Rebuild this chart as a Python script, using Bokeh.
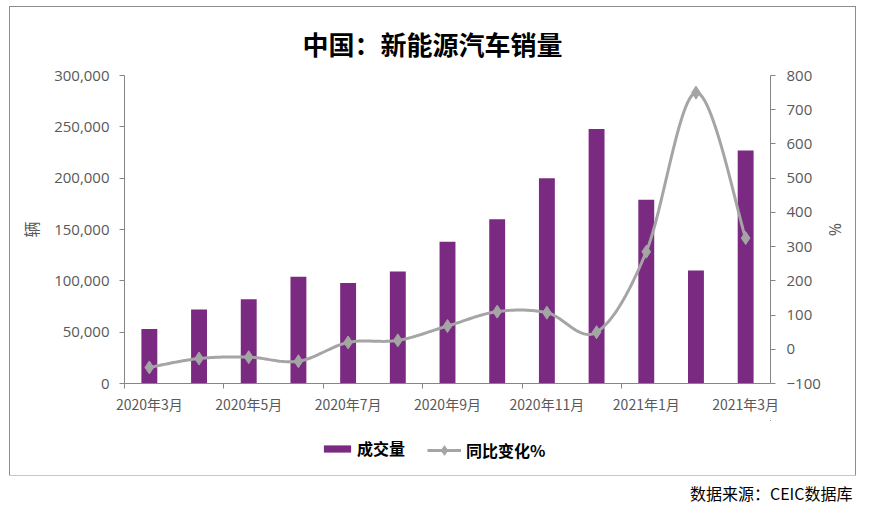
import math
from bokeh.plotting import figure
from bokeh.layouts import column, row
from bokeh.models import (Range1d, LinearAxis, FixedTicker, NumeralTickFormatter,
                          Legend, LegendItem, Label, Spacer)
from bokeh.embed import file_html
from bokeh.resources import INLINE

# ---- data ----
months = ["2020年3月", "2020年4月", "2020年5月", "2020年6月", "2020年7月", "2020年8月",
          "2020年9月", "2020年10月", "2020年11月", "2020年12月", "2021年1月", "2021年2月",
          "2021年3月"]
sales = [53000, 72000, 82000, 104000, 98000, 109000, 138000, 160000, 200000,
         248000, 179000, 110000, 227000]
yoy = [-53, -27, -23, -35, 20, 26, 68, 110, 107, 50, 285, 750, 325]
left_ticks = [0, 50000, 100000, 150000, 200000, 250000, 300000]
right_ticks = [-100, 0, 100, 200, 300, 400, 500, 600, 700, 800]

title_text = "中国：新能源汽车销量"
source_text = "数据来源：CEIC数据库"
bar_name = "成交量"
line_name = "同比变化%"
left_label = "辆"
right_label = "%"

PURPLE = "#7B2A82"
GRAY = "#A5A5A5"
AXIS = "#868686"
TICKTXT = "#595959"
NUM_FONT = "Open Sans"
CJK_FONT = "Noto Sans CJK SC"

n = len(months)
xs = list(range(n))

PW, PH = 845, 413
p = figure(width=PW, height=PH, output_backend="svg", toolbar_location=None,
           x_range=Range1d(-0.5, n - 0.5), y_range=Range1d(left_ticks[0], left_ticks[-1]),
           min_border_left=114, min_border_right=85, min_border_top=68,
           min_border_bottom=37)
p.extra_y_ranges = {"pct": Range1d(right_ticks[0], right_ticks[-1])}
p.outline_line_color = None
p.xgrid.visible = False
p.ygrid.visible = False
p.background_fill_color = "white"
p.border_fill_color = "white"

p.title.text = title_text
p.title.align = "left"
p.title.offset = 178
p.title.standoff = 28
p.title.text_font = CJK_FONT
p.title.text_font_size = "26px"
p.title.text_font_style = "bold"
p.title.text_color = "black"

# bars
bars = p.vbar(x=xs, top=sales, width=0.32, fill_color=PURPLE, line_color=None)

# smoothed line (Catmull-Rom through the data points)
def smooth(xv, yv, steps=24):
    pts = list(zip(xv, yv))
    m = len(pts)
    ox, oy = [], []
    for i in range(m - 1):
        p0 = pts[i - 1] if i > 0 else pts[i]
        p1 = pts[i]
        p2 = pts[i + 1]
        p3 = pts[i + 2] if i + 2 < m else pts[i + 1]
        c1 = (p1[0] + (p2[0] - p0[0]) / 6, p1[1] + (p2[1] - p0[1]) / 6)
        c2 = (p2[0] - (p3[0] - p1[0]) / 6, p2[1] - (p3[1] - p1[1]) / 6)
        for k in range(steps + (1 if i == m - 2 else 0)):
            t = k / steps
            a = (1 - t) ** 3; b = 3 * (1 - t) ** 2 * t; c = 3 * (1 - t) * t ** 2; d = t ** 3
            ox.append(a * p1[0] + b * c1[0] + c * c2[0] + d * p2[0])
            oy.append(a * p1[1] + b * c1[1] + c * c2[1] + d * p2[1])
    return ox, oy

sx, sy = smooth(xs, yoy)
line = p.line(sx, sy, y_range_name="pct", line_color=GRAY, line_width=3)
marks = p.scatter(xs, yoy, y_range_name="pct", marker="diamond", size=13,
                  fill_color=GRAY, line_color=GRAY)

# x axis
xax = p.xaxis[0]
xax.ticker = FixedTicker(ticks=xs[::2], minor_ticks=[x - 0.5 for x in xs[::2] if x < n - 1])
xax.major_label_overrides = {x: months[x] for x in xs[::2]}
xax.major_tick_in = 0
xax.major_tick_out = 0
xax.minor_tick_in = 0
xax.minor_tick_out = 5
xax.minor_tick_line_color = AXIS
xax.axis_line_color = AXIS
xax.major_label_text_font = CJK_FONT
xax.major_label_text_font_size = "14px"
xax.major_label_text_color = TICKTXT
xax.major_label_standoff = 5

# left axis
yax = p.yaxis[0]
yax.ticker = FixedTicker(ticks=left_ticks)
yax.formatter = NumeralTickFormatter(format="0,0")
yax.major_tick_in = 0
yax.major_tick_out = 5
yax.minor_tick_line_color = None
yax.axis_line_color = AXIS
yax.major_tick_line_color = AXIS
yax.major_label_text_font = NUM_FONT
yax.major_label_text_font_size = "15px"
yax.major_label_text_color = TICKTXT
yax.major_label_standoff = 10
yax.axis_label = left_label
yax.axis_label_text_font = CJK_FONT
yax.axis_label_text_font_size = "16px"
yax.axis_label_text_font_style = "normal"
yax.axis_label_text_color = TICKTXT
yax.axis_label_standoff = 8

# right axis
rax = LinearAxis(y_range_name="pct", ticker=FixedTicker(ticks=right_ticks))
rax.major_tick_in = 0
rax.major_tick_out = 5
rax.minor_tick_line_color = None
rax.axis_line_color = AXIS
rax.major_tick_line_color = AXIS
rax.major_label_text_font = NUM_FONT
rax.major_label_text_font_size = "15px"
rax.major_label_text_color = TICKTXT
rax.major_label_standoff = 11
rax.axis_label = right_label
rax.axis_label_text_font = NUM_FONT
rax.axis_label_text_font_size = "16px"
rax.axis_label_text_font_style = "normal"
rax.axis_label_text_color = TICKTXT
rax.axis_label_standoff = 0
p.add_layout(rax, "right")

# legend strip (inside the box, below the chart); its frame aligns with the chart frame
lg = figure(width=PW, height=55, output_backend="svg", toolbar_location=None,
            x_range=Range1d(-100, -99), y_range=Range1d(-100, -99),
            x_axis_type=None, y_axis_type=None,
            min_border_left=0, min_border_right=0, min_border_top=0, min_border_bottom=0)
lg.extra_y_ranges = {"pct": Range1d(-10000, -9999)}
lg.outline_line_color = None
lg.xgrid.visible = False
lg.ygrid.visible = False
# legend keys drawn from the same series (kept outside this strip's visible ranges)
kb = lg.vbar(x=xs, top=sales, width=0.32, fill_color=PURPLE, line_color=None)
kl = lg.line(sx, sy, y_range_name="pct", line_color=GRAY, line_width=3)
km = lg.scatter(xs, yoy, y_range_name="pct", marker="diamond", size=13,
                fill_color=GRAY, line_color=GRAY)
common = dict(orientation="horizontal", padding=0, margin=0, spacing=0,
              label_text_font=CJK_FONT, label_text_font_size="16px",
              label_text_font_style="bold", label_text_color="black",
              border_line_color=None, background_fill_alpha=0, glyph_width=34)
leg1 = Legend(items=[LegendItem(label=bar_name, renderers=[kb])],
              location=(196, 15), glyph_height=9, label_standoff=3, **common)
leg2 = Legend(items=[LegendItem(label=line_name, renderers=[kl, km])],
              location=(303, 13), glyph_height=24, label_standoff=5, **common)
lg.add_layout(leg1)
lg.add_layout(leg2)

# source line below the box
src = figure(width=860, height=40, output_backend="svg", toolbar_location=None,
             x_range=Range1d(0, 860), y_range=Range1d(0, 40),
             x_axis_type=None, y_axis_type=None,
             min_border_left=0, min_border_right=0, min_border_top=0, min_border_bottom=0)
src.outline_line_color = None
src.xgrid.visible = False
src.ygrid.visible = False
src.add_layout(Label(x=852, y=23, text=source_text, text_align="right",
                     text_baseline="middle", text_font=CJK_FONT,
                     text_font_size="16px", text_color="black"))

boxed = column(p, lg, styles={"outline": "1px solid #8C8C8C"})
layout = column(Spacer(width=10, height=7), row(Spacer(width=10, height=10), boxed), src)
open("out.html", "w").write(file_html(layout, INLINE))
